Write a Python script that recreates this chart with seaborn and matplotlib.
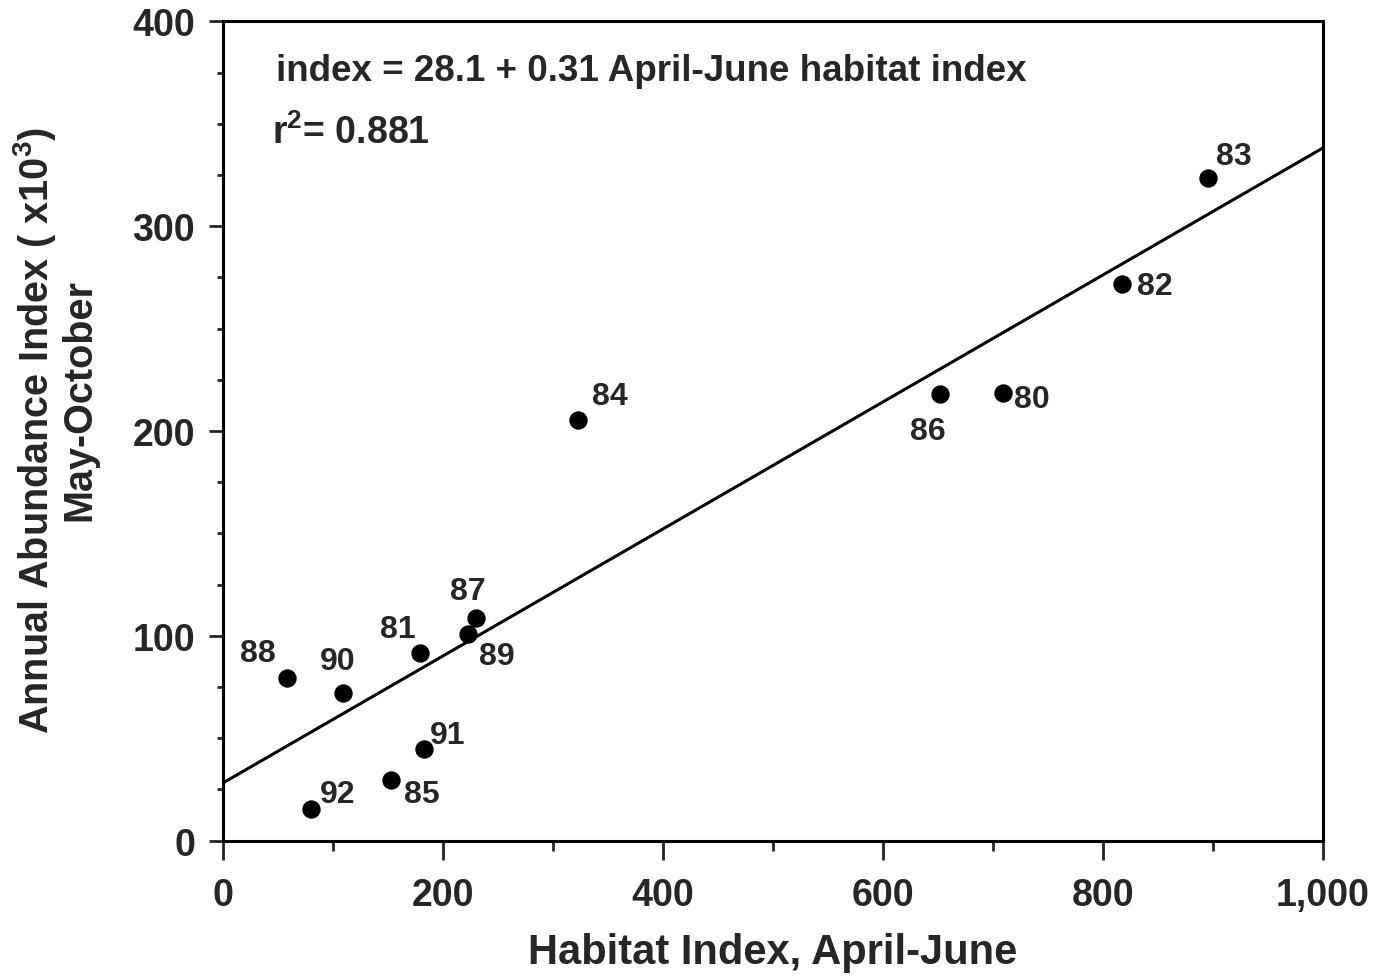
import numpy as np
import pandas as pd
import matplotlib
matplotlib.use("Agg")
import matplotlib.pyplot as plt
import seaborn as sns
from matplotlib.ticker import MultipleLocator, FuncFormatter

# data
years = ["83", "82", "86", "80", "84", "87", "89", "81", "88", "90", "91", "85", "92"]
habitat = [896, 818, 652, 709, 323, 230, 223, 179, 58, 109, 183, 153, 80]
abundance = [323.5, 272, 218, 218.5, 205.5, 108.7, 101, 91.6, 79.4, 72.1, 44.6, 29.8, 15.3]
intercept = 28.1
slope = 0.31

# label offsets (pixels, y up) for each year tag
label_dx = [26, 32, -12, 29, 32, -8, 29, -22, -29, -5, 24, 31, 27]
label_dy = [22, -2, -37, -6, 24, 27, -22, 24, 25, 32, 14, -14, 15]

df = pd.DataFrame({"year": years, "habitat": habitat, "abundance": abundance})
line_x = np.array([0, 1000])
line_df = pd.DataFrame({"x": line_x, "y": intercept + slope * line_x})

sns.set_style("white")
plt.rcParams["font.family"] = ["Liberation Sans", "DejaVu Sans"]
plt.rcParams["font.weight"] = "bold"
plt.rcParams["mathtext.fontset"] = "custom"
plt.rcParams["mathtext.rm"] = "Liberation Sans:bold"
plt.rcParams["mathtext.it"] = "Liberation Sans:bold"
plt.rcParams["mathtext.default"] = "rm"

fig = plt.figure(figsize=(13.86, 9.79), dpi=100)
ax = fig.add_axes([0.1607, 0.1403, 0.7936, 0.8369])

sns.lineplot(data=line_df, x="x", y="y", ax=ax, color="black", linewidth=2.2)
sns.scatterplot(data=df, x="habitat", y="abundance", ax=ax, color="black",
                s=175, edgecolor="black", linewidth=0, zorder=3)

for yr, hx, ay, dx, dy in zip(years, habitat, abundance, label_dx, label_dy):
    ax.annotate(yr, (hx, ay), xytext=(dx * 0.72, dy * 0.72), textcoords="offset points",
                ha="center", va="center", fontsize=23, fontweight="bold")

ax.set_xlim(0, 1000)
ax.set_ylim(0, 400)
ax.xaxis.set_major_locator(MultipleLocator(200))
ax.xaxis.set_minor_locator(MultipleLocator(100))
ax.yaxis.set_major_locator(MultipleLocator(100))
ax.yaxis.set_minor_locator(MultipleLocator(25))
ax.xaxis.set_major_formatter(FuncFormatter(lambda v, p: f"{int(v):,}"))

ax.tick_params(axis="x", which="major", direction="out", length=14, width=2, pad=12, labelsize=27)
ax.tick_params(axis="x", which="minor", direction="out", length=7, width=2)
ax.tick_params(axis="y", which="major", direction="out", length=10, width=2, pad=10, labelsize=27)
ax.tick_params(axis="y", which="minor", direction="out", length=4, width=2)
ax.tick_params(bottom=True, left=True, top=False, right=False, which="both")

for sp in ax.spines.values():
    sp.set_color("black")
    sp.set_linewidth(2.2)

ax.set_xlabel("Habitat Index, April-June", fontsize=30, fontweight="bold", labelpad=14)
ax.set_ylabel("")

fig.text(35 / 1386, 1 - 430 / 979, "Annual Abundance Index ( x10$^3$)", rotation=90,
         ha="center", va="center", fontsize=28.5, fontweight="bold")
fig.text(79 / 1386, 1 - 400 / 979, "May-October", rotation=90,
         ha="center", va="center", fontsize=28.5, fontweight="bold")

ax.text(0.048, 0.94, "index = 28.1 + 0.31 April-June habitat index",
        transform=ax.transAxes, ha="left", va="center", fontsize=26.5, fontweight="bold")
ax.text(0.045, 0.865, "r$^2$= 0.881", transform=ax.transAxes, ha="left", va="center",
        fontsize=27, fontweight="bold")

fig.savefig("out.png", dpi=100)
